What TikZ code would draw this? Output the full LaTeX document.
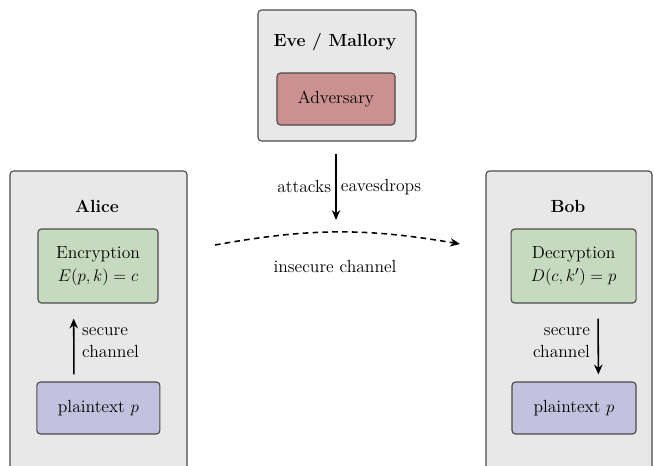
\documentclass[tikz,border=0pt]{standalone}
\usetikzlibrary{arrows.meta}
\definecolor{partybg}{HTML}{E8E8E8}
\definecolor{advred}{HTML}{CB9090}
\definecolor{cryptgreen}{HTML}{C6DAC0}
\definecolor{plainblue}{HTML}{C3C1DE}
\definecolor{edgegray}{HTML}{4A4A4A}
\begin{document}
\begin{tikzpicture}[
  party/.style={draw=edgegray, fill=partybg, rounded corners=2.5pt, line width=0.8pt},
  stage/.style={draw=edgegray, rounded corners=2.5pt, line width=0.8pt, align=center,
    inner sep=0pt, font=\fontsize{12.5}{16}\selectfont},
  who/.style={font=\bfseries\fontsize{12.5}{14}\selectfont},
  lbl/.style={font=\fontsize{12.5}{16}\selectfont, align=left},
  flow/.style={-{Stealth[length=7pt,width=6pt]}, line width=1.1pt}
]
\clip (0,0) rectangle (16.35,11.625);
% parties
\node[party, minimum width=3.95cm, minimum height=3.275cm] (eve) at (8.425,9.7375) {};
\node[party, minimum width=4.425cm, minimum height=7.85cm] (alice) at (2.4625,3.425) {};
\node[party, minimum width=4.15cm, minimum height=7.85cm] (bob) at (14.225,3.425) {};
\node[who] (evename) at (8.375,10.575) {Eve / Mallory};
\node[who] (alicename) at (2.425,6.475) {Alice};
\node[who] (bobname) at (14.2,6.475) {Bob};
% stages
\node[stage, fill=advred, minimum width=2.95cm, minimum height=1.3cm] (adv) at (8.4,9.15) {Adversary};
\node[stage, fill=cryptgreen, minimum width=3.0cm, minimum height=1.85cm] (enc) at (2.45,4.975) {Encryption\\$E(p,k)=c$};
\node[stage, fill=plainblue, minimum width=3.075cm, minimum height=1.3cm] (ptA) at (2.46,1.425) {plaintext $p$};
\node[stage, fill=cryptgreen, minimum width=3.125cm, minimum height=1.85cm] (dec) at (14.34,4.975) {Decryption\\$D(c,k')=p$};
\node[stage, fill=plainblue, minimum width=3.1cm, minimum height=1.3cm] (ptB) at (14.35,1.425) {plaintext $p$};
% channel
\coordinate (chanL) at (5.375,5.5);
\coordinate (chanR) at (11.5,5.525);
\coordinate (tap) at (8.4,6.125);
\draw[flow, dash pattern=on 4pt off 3pt] (chanL) to[bend left=10] (chanR);
\node[lbl] (insec) at (8.375,4.975) {insecure channel};
\draw[flow] ([yshift=-0.3cm]eve.south -| tap) -- (tap)
  node[lbl, pos=0.5, left, inner sep=3pt] (atk) {attacks}
  node[lbl, pos=0.5, right, inner sep=3pt] (eav) {eavesdrops};
% secure channels
\draw[flow, shorten <=0.175cm, shorten >=0.375cm] ([xshift=-0.61cm]ptA.north) -- ([xshift=-0.61cm]enc.south)
  node[lbl, pos=0.5, right=2pt] (secA) {secure\\channel};
\draw[flow, shorten <=0.375cm, shorten >=0.175cm] ([xshift=0.61cm]dec.south) -- ([xshift=0.61cm]ptB.north)
  node[lbl, align=right, pos=0.5, left=2pt] (secB) {secure\\channel};
\end{tikzpicture}
\end{document}
